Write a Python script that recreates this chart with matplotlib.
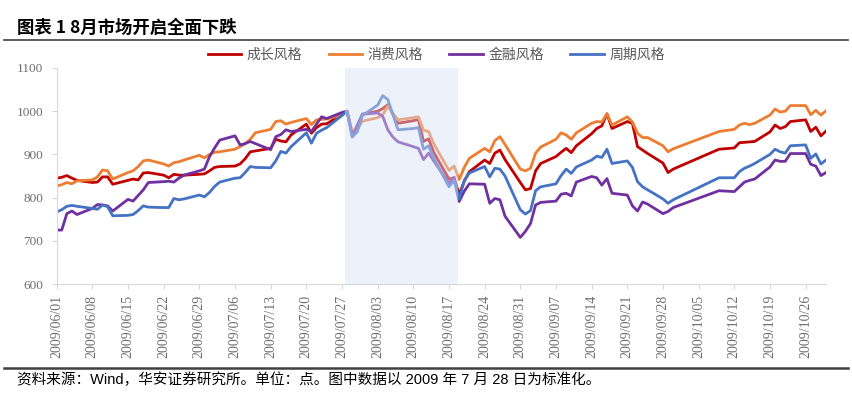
import pandas as pd
import matplotlib
matplotlib.use('Agg')
import matplotlib.pyplot as plt
import matplotlib.dates as mdates
from matplotlib.lines import Line2D

# Latin text from Liberation Sans, Chinese falls back to Noto Sans CJK
plt.rcParams['font.family'] = ['Liberation Sans', 'Noto Sans CJK SC']

# trading days 2009/06/01 - 2009/10/30 (market closed 10/01 - 10/08)
days = pd.bdate_range('2009-06-01', '2009-10-30')
days = days[(days < '2009-10-01') | (days > '2009-10-08')]

# index levels, normalised to 1000 on 2009/07/28
growth = [845, 847, 851, 845, 840, 835, 836, 848, 848, 831, 840, 843, 841, 857, 858, 852, 846, 854, 852, 852, 854, 855,
          862, 870, 872, 873, 878, 890, 906, 908, 914, 935, 931, 929, 945, 970, 949, 962, 970, 971, 992, 1000, 947, 960, 993,
          1000, 1006, 1015, 993, 972, 978, 981, 930, 936, 905, 843, 846, 807, 838, 860, 887, 879, 903, 910, 888, 835,
          818, 821, 862, 879, 895, 905, 914, 904, 920, 948, 960, 966, 994, 960, 976, 972, 918, 910, 902, 880, 858, 866,
          912, 915, 927, 928, 929, 930, 952, 968, 960, 964, 976, 980, 953, 963, 943, 954]
consumer = [827, 830, 835, 832, 839, 841, 848, 864, 862, 843, 858, 862, 872, 885, 887, 878, 873, 881, 883, 887, 898, 892,
            900, 905, 906, 912, 918, 925, 935, 950, 958, 976, 978, 970, 974, 983, 969, 980, 981, 982, 991, 1000, 952, 958, 977,
            985, 992, 1012, 995, 980, 985, 987, 956, 953, 925, 863, 873, 842, 870, 891, 914, 906, 932, 941, 923, 866,
            862, 868, 903, 917, 935, 950, 945, 935, 950, 972, 976, 975, 994, 968, 987, 975, 949, 939, 939, 920, 906, 913,
            953, 958, 968, 972, 969, 972, 991, 1005, 998, 1000, 1013, 1013, 992, 1002, 991, 1001]
finance = [725, 725, 763, 769, 761, 775, 784, 783, 781, 769, 796, 792, 805, 818, 835, 837, 838, 836, 845, 852, 862, 866,
           895, 915, 933, 943, 922, 925, 930, 925, 911, 941, 946, 957, 953, 958, 953, 970, 987, 983, 997, 1000, 943, 968, 993,
           996, 988, 957, 940, 929, 918, 914, 888, 903, 885, 833, 847, 791, 815, 832, 831, 787, 798, 795, 757, 708,
           722, 740, 783, 789, 792, 808, 810, 804, 836, 849, 846, 829, 844, 810, 806, 781, 769, 790, 785, 763, 768, 777,
           816, 814, 825, 836, 840, 843, 871, 887, 884, 884, 902, 902, 877, 873, 851, 858]
cyclical = [767, 772, 780, 782, 780, 775, 773, 783, 779, 758, 759, 761, 770, 781, 778, 777, 777, 798, 795, 797, 806, 802,
            812, 826, 836, 845, 846, 858, 872, 870, 869, 885, 907, 903, 918, 950, 926, 949, 956, 962, 990, 1000, 940, 952, 990,
            1014, 1036, 1027, 992, 957, 960, 962, 912, 920, 892, 825, 840, 797, 840, 857, 872, 848, 868, 866, 850, 772,
            762, 770, 816, 825, 832, 851, 866, 856, 871, 887, 896, 893, 912, 879, 885, 870, 837, 825, 818, 797, 787, 795,
            846, 846, 860, 868, 873, 879, 900, 912, 906, 903, 920, 922, 891, 901, 878, 887]

names = ['成长风格', '消费风格', '金融风格', '周期风格']
colors = ['#C00000', '#ED7D31', '#7030A0', '#4472C4']

fig = plt.figure(figsize=(8.52, 4.07), dpi=100)
ax = fig.add_axes([0.0665, 0.302, 0.903, 0.531])

for values, name, c in zip([growth, consumer, finance, cyclical], names, colors):
    ax.plot(days, values, color=c, lw=2.0, label=name, zorder=2)

# August sell-off window, drawn over the lines so they look washed out
ax.axvspan(pd.Timestamp('2009-07-27 12:00'), pd.Timestamp('2009-08-18 19:00'),
           color='#D9E0F4', alpha=0.45, lw=0, zorder=3)

ax.set_xlim(days[0], days[-1])
ax.set_ylim(600, 1100)
ax.set_yticks(range(600, 1101, 100))
ax.xaxis.set_major_locator(mdates.WeekdayLocator(byweekday=mdates.MO))
ax.xaxis.set_major_formatter(mdates.DateFormatter('%Y/%m/%d'))

for s in ['top', 'right']:
    ax.spines[s].set_visible(False)
for s in ['left', 'bottom']:
    ax.spines[s].set_color('#D9D9D9')
    ax.spines[s].set_linewidth(0.8)

ax.tick_params(axis='both', colors='#D9D9D9', length=3.5, width=0.8)
ax.tick_params(axis='x', pad=4)
ax.tick_params(axis='y', pad=6)
for lab in ax.get_xticklabels():
    lab.set_rotation(90)
    lab.set_family('Liberation Serif')
    lab.set_fontsize(10)
    lab.set_color('#6E6E6E')
for lab in ax.get_yticklabels():
    lab.set_family('Liberation Serif')
    lab.set_fontsize(9.5)
    lab.set_color('#6E6E6E')

leg = fig.legend(loc='center', bbox_to_anchor=(0.512, 0.865), ncol=4, frameon=False,
                 fontsize=10, handlelength=2.4, handletextpad=0.4, columnspacing=1.9)
for t in leg.get_texts():
    t.set_color('#595959')

# title and rules
fig.text(0.02, 0.931, '图表 1 8月市场开启全面下跌', fontsize=12.5, fontweight='bold',
         family=['Noto Sans CJK SC'], va='center', ha='left', color='black')
fig.add_artist(Line2D([0.005, 0.995], [0.902, 0.902], color='#404040', lw=1.2))
fig.add_artist(Line2D([0.005, 0.995], [0.097, 0.097], color='#404040', lw=1.8))

fig.text(0.02, 0.066, '资料来源：Wind，华安证券研究所。单位：点。图中数据以 2009 年 7 月 28 日为标准化。',
         fontsize=10.5, va='center', ha='left', color='black')

fig.savefig('out.png', dpi=100)
